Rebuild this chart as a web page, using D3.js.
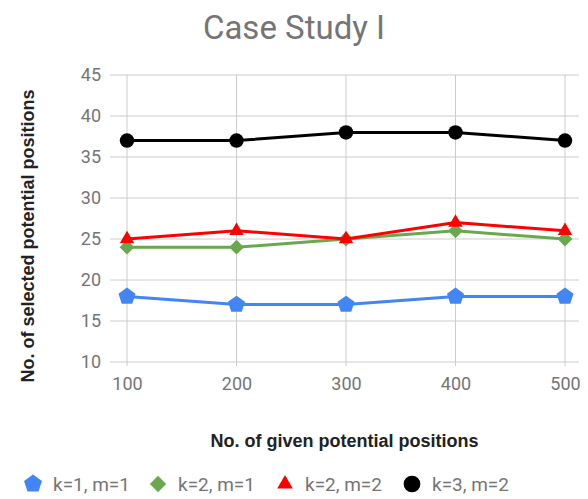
<!DOCTYPE html>
<html>
<head>
<meta charset="utf-8">
<script src="https://cdn.jsdelivr.net/npm/d3@7"></script>
<style>
  body { margin: 0; background: #fff; font-family: Roboto, "Noto Sans", sans-serif; }
</style>
</head>
<body>
<div id="viz"></div>
<script>
var xValues = [100, 200, 300, 400, 500],
    yTicks = [10, 15, 20, 25, 30, 35, 40, 45],
    seriesNames = ['k=1, m=1', 'k=2, m=1', 'k=2, m=2', 'k=3, m=2'],
    k1m1 = [18, 17, 17, 18, 18],
    k2m1 = [24, 24, 25, 26, 25],
    k2m2 = [25, 26, 25, 27, 26],
    k3m2 = [37, 37, 38, 38, 37];

var width = 588, height = 499,
    plotLeft = 110, plotRight = 579, plotTop = 75, plotBottom = 362;

// pentagon marker, d3 does not have one
var symbolPentagon = {
  draw: function(ctx, size) {
    var r = Math.sqrt(size / 2.378);
    for (var i = 0; i < 5; i++) {
      var a = -Math.PI / 2 + i * 2 * Math.PI / 5;
      if (i == 0) ctx.moveTo(r * Math.cos(a), r * Math.sin(a));
      else ctx.lineTo(r * Math.cos(a), r * Math.sin(a));
    }
    ctx.closePath();
  }
};

var series = [
  { name: seriesNames[0], values: k1m1, color: '#4285f4', symbol: symbolPentagon, size: 190, legSize: 210 },
  { name: seriesNames[1], values: k2m1, color: '#6aa84f', symbol: d3.symbolDiamond2, size: 140, legSize: 170 },
  { name: seriesNames[2], values: k2m2, color: '#ff0000', symbol: d3.symbolTriangle, size: 90, legSize: 105 },
  { name: seriesNames[3], values: k3m2, color: '#000000', symbol: d3.symbolCircle, size: 165, legSize: 220 }
];

var svg = d3.select('#viz').append('svg')
  .attr('width', width)
  .attr('height', height);

var xScale = d3.scalePoint()
  .domain(xValues)
  .range([127, 565]);

var yScale = d3.scaleLinear()
  .domain([10, 45])
  .range([plotBottom, plotTop]);

// title
svg.append('text')
  .attr('x', width / 2).attr('y', 39)
  .attr('text-anchor', 'middle')
  .style('font-size', '33px')
  .style('fill', '#757575')
  .text('Case Study I');

// grid
svg.append('g').selectAll('line').data(yTicks)
  .enter().append('line')
    .attr('x1', plotLeft).attr('x2', plotRight)
    .attr('y1', function(d) { return yScale(d); })
    .attr('y2', function(d) { return yScale(d); })
    .style('stroke', '#cccccc').style('stroke-width', 1);

svg.append('g').selectAll('line').data(xValues)
  .enter().append('line')
    .attr('x1', function(d) { return xScale(d); })
    .attr('x2', function(d) { return xScale(d); })
    .attr('y1', plotTop).attr('y2', plotBottom + 4)
    .style('stroke', '#cccccc').style('stroke-width', 1);

// axes
var yAxis = svg.append('g')
  .attr('transform', 'translate(104,0)')
  .call(d3.axisLeft(yScale).tickValues(yTicks).tickSize(0));
yAxis.select('.domain').remove();
yAxis.selectAll('text')
  .style('font-family', 'Roboto, sans-serif')
  .style('font-size', '18px')
  .style('fill', '#757575');

var xAxis = svg.append('g')
  .attr('transform', 'translate(0,374)')
  .call(d3.axisBottom(xScale).tickSize(0));
xAxis.select('.domain').remove();
xAxis.selectAll('text')
  .style('font-family', 'Roboto, sans-serif')
  .style('font-size', '18px')
  .style('fill', '#757575');

// axis titles
svg.append('text')
  .attr('transform', 'translate(34,236) rotate(-90)')
  .attr('text-anchor', 'middle')
  .style('font-family', '"Liberation Sans", Arial, sans-serif')
  .style('font-size', '18px')
  .style('font-weight', 'bold')
  .style('fill', '#222')
  .text('No. of selected potential positions');

svg.append('text')
  .attr('x', (plotLeft + plotRight) / 2).attr('y', 447)
  .attr('text-anchor', 'middle')
  .style('font-family', '"Liberation Sans", Arial, sans-serif')
  .style('font-size', '18px')
  .style('font-weight', 'bold')
  .style('fill', '#222')
  .text('No. of given potential positions');

// lines + markers
var line = d3.line()
  .x(function(d, i) { return xScale(xValues[i]); })
  .y(function(d) { return yScale(d); });

series.forEach(function(s) {
  svg.append('path')
    .datum(s.values)
    .attr('d', line)
    .style('fill', 'none')
    .style('stroke', s.color)
    .style('stroke-width', 3);

  svg.append('g').selectAll('path').data(s.values)
    .enter().append('path')
      .attr('transform', function(d, i) {
        return 'translate(' + xScale(xValues[i]) + ',' + yScale(d) + ')';
      })
      .attr('d', d3.symbol().type(s.symbol).size(s.size))
      .style('fill', s.color);
});

// legend
var legendX = [33, 158, 285, 412];
var legend = svg.append('g').selectAll('g').data(series)
  .enter().append('g')
    .attr('transform', function(d, i) { return 'translate(' + legendX[i] + ',484)'; });

legend.append('path')
  .attr('d', function(d) { return d3.symbol().type(d.symbol).size(d.legSize)(); })
  .style('fill', function(d) { return d.color; });

legend.append('text')
  .attr('x', 20).attr('y', 7)
  .style('font-size', '19px')
  .style('fill', '#757575')
  .text(function(d) { return d.name; });
</script>
</body>
</html>
